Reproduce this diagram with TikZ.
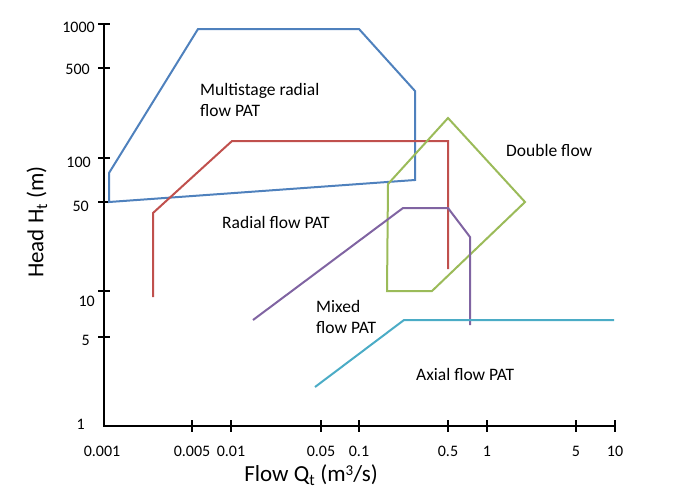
\documentclass[tikz,border=0pt]{standalone}
\usepackage{fontspec}
\setmainfont{Carlito}
\usepackage{xcolor}
\usepackage{tikz}

\definecolor{patblue}{RGB}{79,129,189}
\definecolor{patred}{RGB}{192,80,77}
\definecolor{patgreen}{RGB}{155,187,89}
\definecolor{patviolet}{RGB}{128,100,162}
\definecolor{patcyan}{RGB}{75,172,198}

\begin{document}
\begin{tikzpicture}[x=1pt,y=-1pt,
		txt/.style={font=\fontsize{17.5}{21}\selectfont, inner sep=0pt, align=left},
		ticklab/.style={font=\fontsize{16}{19}\selectfont, inner sep=0pt},
		axlab/.style={font=\fontsize{23}{27}\selectfont, inner sep=0pt},
		env/.style={line width=2pt, line join=miter}]
		\useasboundingbox (0,0) rectangle (676,488);

		% Axes
		\draw[line width=2.2pt] (104,23) -- (104,426) -- (615,426);
		\node[axlab, rotate=90] (ylab) at (37,222) {Head H\textsubscript{t} (m)};
		\node[axlab] (xlab) at (311,475)
			{Flow Q\textsubscript{t} (m\raisebox{0.25em}{\fontsize{15}{17}\selectfont 3}/s)};

		% Head ticks
		\foreach \y/\lab/\ly/\lx in {24/1000/27/95, 68/500/69/90, 158/100/162/91,
				202/50/206/89, 291/10/301/95, 337/5/340/90}
			{
			\draw[line width=2pt] (98,\y) -- (110,\y);
			\node[ticklab, anchor=east] (h\lab) at (\lx,\ly) {\lab};
			}
		\node[ticklab, anchor=east] (h1) at (85,424) {1};

		% Flow ticks
		\foreach \x/\lab in {192/0.005, 231/0.01, 321/0.05, 359/0.1,
				448/0.5, 487/1, 576/5, 615/10}
			{
			\draw[line width=2pt] (\x,420) -- (\x,432);
			\node[ticklab] (q\lab) at (\x,451) {\lab};
			}
		\node[ticklab] (q0.001) at (102,451) {0.001};

		% Multistage radial flow
		\draw[env, patblue] (109,202) -- (109,173) -- (198,29) -- (359,29)
			-- (415,91) -- (415,180) -- cycle;
		\node[txt, anchor=west] (multi) at (200,100) {Multistage radial\\flow PAT};

		% Radial flow
		\draw[env, patred] (153,297) -- (153,213) -- (232,141) -- (448,141) -- (448,269);
		\node[txt, anchor=west] (radial) at (222,222) {Radial flow PAT};

		% Double flow
		\draw[env, patgreen] (448,118) -- (525,202) -- (432,291) -- (387,291)
			-- (388,184) -- cycle;
		\node[txt, anchor=west] (double) at (506,150) {Double flow};

		% Mixed flow
		\draw[env, patviolet] (253,320) -- (403,208) -- (448,208) -- (470,237) -- (470,325);
		\node[txt, anchor=west] (mixed) at (316,317) {Mixed\\flow PAT};

		% Axial flow
		\draw[env, patcyan] (315,387) -- (404,320) -- (614,320);
		\node[txt, anchor=west] (axial) at (416,374) {Axial flow PAT};
	\end{tikzpicture}
\end{document}
